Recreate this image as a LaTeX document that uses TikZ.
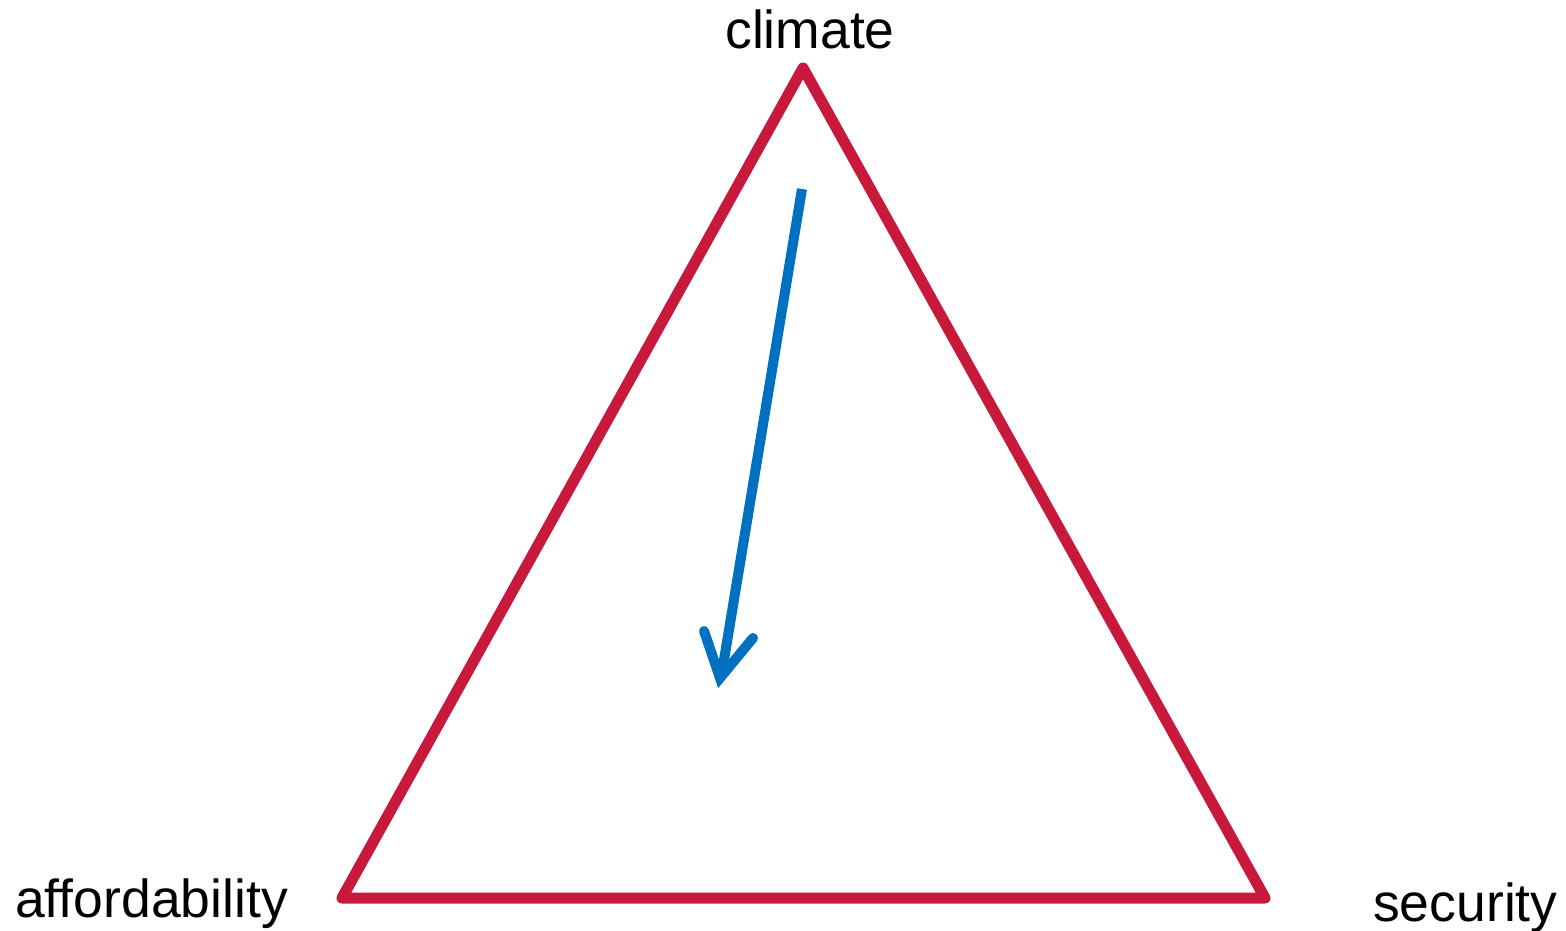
\documentclass[tikz,border=0pt]{standalone}
\usepackage{fontspec}
\setmainfont{Liberation Sans}
\definecolor{tri}{HTML}{C8193C}
\definecolor{arr}{HTML}{0070C0}
\begin{document}
\begin{tikzpicture}[x=1pt,y=-1pt,
  lbl/.style={font=\fontsize{53.5}{60}\selectfont, inner sep=0pt},
  triline/.style={draw=tri, line width=11pt, line join=round},
  arrline/.style={draw=arr, line width=10pt}]
\useasboundingbox (0,0) rectangle (1566,931);
\coordinate (top) at (803,68);
\coordinate (left) at (342,898);
\coordinate (right) at (1265,898);
\draw[triline] (top) -- (right) -- (left) -- cycle;
\coordinate (astart) at (802,189);
\coordinate (aend) at (722,672);
\coordinate (tip) at (720,678);
\coordinate (wl) at (704,631);
\coordinate (wr) at (753,638);
\draw[arrline, line cap=butt] (astart) -- (aend);
\draw[arrline, line cap=round, line join=miter, miter limit=10] (wl) -- (tip) -- (wr);
\node[lbl, anchor=base] (climate) at (810,49) {climate};
\node[lbl, anchor=base west] (aff) at (15,917) {affordability};
\node[lbl, anchor=base west] (sec) at (1373,921) {security};
\end{tikzpicture}
\end{document}
